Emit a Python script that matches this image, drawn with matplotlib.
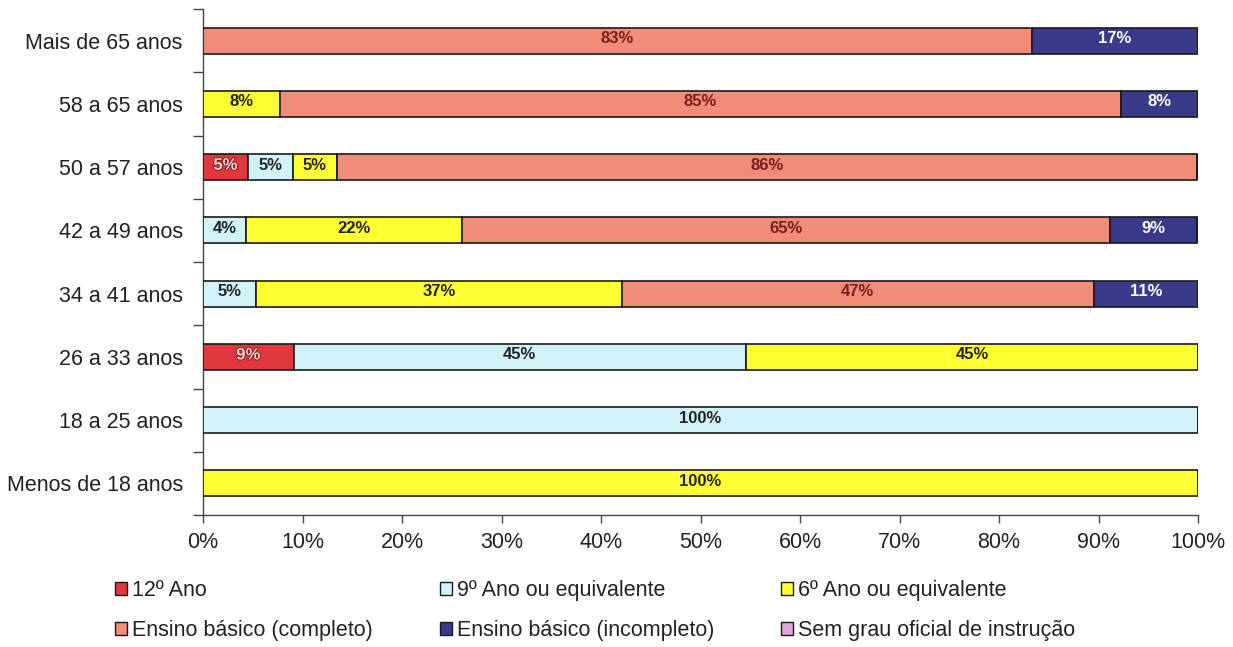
import numpy as np
import matplotlib
matplotlib.use("Agg")
import matplotlib.pyplot as plt
from matplotlib.patches import Patch
import matplotlib.patheffects as pe

plt.rcParams['font.family'] = ['Liberation Sans', 'DejaVu Sans']

categories = ["Mais de 65 anos", "58 a 65 anos", "50 a 57 anos", "42 a 49 anos",
              "34 a 41 anos", "26 a 33 anos", "18 a 25 anos", "Menos de 18 anos"]
series_names = ["12º Ano", "9º Ano ou equivalente", "6º Ano ou equivalente",
                "Ensino básico (completo)", "Ensino básico (incompleto)",
                "Sem grau oficial de instrução"]
ano12 = [0, 0, 4.5, 0, 0, 9.1, 0, 0]
ano9 = [0, 0, 4.5, 4.3, 5.3, 45.45, 100, 0]
ano6 = [0, 7.7, 4.5, 21.7, 36.8, 45.45, 0, 100]
basico_completo = [83.3, 84.6, 86.4, 65.2, 47.4, 0, 0, 0]
basico_incompleto = [16.7, 7.7, 0, 8.7, 10.5, 0, 0, 0]
sem_grau = [0, 0, 0, 0, 0, 0, 0, 0]
series = [ano12, ano9, ano6, basico_completo, basico_incompleto, sem_grau]

colors = ['#E0383C', '#D0F3FA', '#FFFF33', '#F28B78', '#3A3A8A', '#DDA6DD']
text_colors = ['#F6D6D6', '#222222', '#222222', '#7A1F1F', '#FFFFFF', '#222222']

W, H = 1233, 647
fig = plt.figure(figsize=(W / 100, H / 100), dpi=100)
ax = fig.add_axes([203 / W, 1 - 515 / H, (1198 - 203) / W, (515 - 9) / H])

n = len(categories)
y = np.arange(n)[::-1]
left = np.zeros(n)
bar_h = 0.41
for vals, col, tcol in zip(series, colors, text_colors):
    vals = np.array(vals, dtype=float)
    ax.barh(y, vals, left=left, height=bar_h, color=col,
            edgecolor='#1a1a1a', linewidth=1.2, zorder=3)
    for yi, l, v in zip(y, left, vals):
        if v > 0:
            kw = {}
            if col == '#E0383C':
                kw['path_effects'] = [pe.withStroke(linewidth=1.2, foreground='#7a1a1a')]
            label = f"{int(np.floor(v + 0.5))}%"
            ax.text(l + v / 2, yi + 0.03, label, ha='center', va='center',
                    fontsize=12, fontweight='bold', color=tcol, zorder=4, **kw)
    left += vals

ax.set_xlim(0, 100)
ax.set_ylim(-0.5, n - 0.5)
ax.set_xticks(np.arange(0, 101, 10))
ax.set_xticklabels([f"{v}%" for v in range(0, 101, 10)], fontsize=15.5, color='#222222')
ax.set_yticks(y)
ax.set_yticklabels(categories, fontsize=15.5, color='#222222')
ax.set_yticks(np.arange(-0.5, n, 1.0), minor=True)
ax.tick_params(axis='y', which='major', length=0, pad=14.5)
ax.tick_params(axis='y', which='minor', length=7, width=1, color='#444444', direction='out')
ax.tick_params(axis='x', which='major', length=6, width=1, color='#444444', direction='out', pad=6)
for s in ['top', 'right']:
    ax.spines[s].set_visible(False)
for s in ['left', 'bottom']:
    ax.spines[s].set_color('#444444')
    ax.spines[s].set_linewidth(1)

handles = [Patch(facecolor=c, edgecolor='#1a1a1a', linewidth=1) for c in colors]
order = [0, 3, 1, 4, 2, 5]
fig.legend([handles[i] for i in order], [series_names[i] for i in order],
           ncol=3, loc='upper left', bbox_to_anchor=(115 / W, 1 - 580 / H),
           frameon=False, fontsize=15.5, borderpad=0, borderaxespad=0,
           handlelength=0.55, handleheight=0.55, handletextpad=0.25,
           labelspacing=0.9, columnspacing=3.1, labelcolor='#222222')

fig.savefig("out.png", dpi=100)
